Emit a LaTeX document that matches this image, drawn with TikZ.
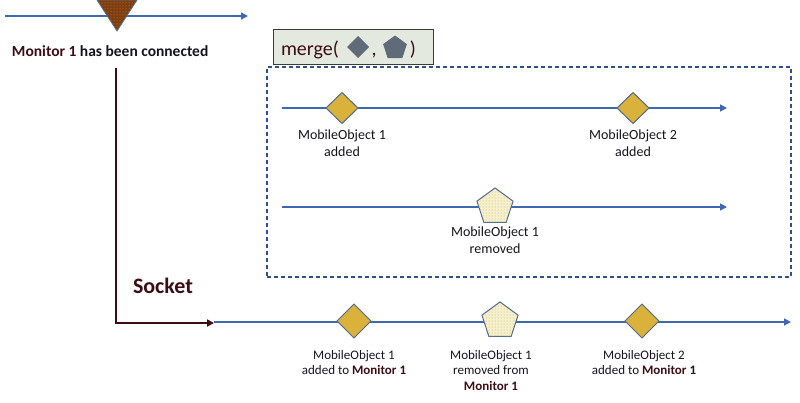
\documentclass[tikz,border=0pt]{standalone}
\usepackage{fontspec}
\setmainfont{Carlito}
\usetikzlibrary{shapes.geometric,arrows.meta,patterns}
\definecolor{darkred}{HTML}{3C0D14}
\definecolor{lblgray}{HTML}{14141E}
\definecolor{lineblue}{HTML}{3F68AE}
\definecolor{edgeblue}{HTML}{4F6A8F}
\definecolor{gold}{HTML}{D9B13B}
\definecolor{paleyellow}{HTML}{F5F0CF}
\definecolor{dotyellow}{HTML}{D6B035}
\definecolor{boxfill}{HTML}{E4E9DF}
\definecolor{boxborder}{HTML}{3A3A3A}
\definecolor{symgray}{HTML}{606A78}
\definecolor{dashblue}{HTML}{2F4F8F}
\definecolor{tribrown}{HTML}{7A3E14}
\begin{document}
\begin{tikzpicture}[x=1pt,y=-1pt,
  every node/.style={inner sep=0pt, outer sep=0pt},
  lbl/.style={align=center, text=lblgray, font=\fontsize{14}{17}\selectfont, anchor=north},
  lblsmall/.style={align=center, text=lblgray, font=\fontsize{13}{15.5}\selectfont, anchor=north},
  blueline/.style={draw=lineblue, line width=1.4pt, -{Triangle[length=7pt,width=7pt]}},
  redline/.style={draw=darkred, line width=2pt, -{Triangle[length=7pt,width=7pt]}},
  mdiamond/.style={diamond, draw=edgeblue, line width=1pt, fill=gold, minimum width=32pt, minimum height=31pt},
  bdiamond/.style={diamond, draw=edgeblue, line width=1pt, fill=gold, minimum width=34pt, minimum height=34pt},
  mpent/.style={regular polygon, regular polygon sides=5, draw=edgeblue, line width=1pt, fill=paleyellow, minimum size=38pt, postaction={pattern=dots, pattern color=dotyellow}},
]
\useasboundingbox (0,0) rectangle (800,402);

% top stream
\coordinate (topS) at (5,16);
\coordinate (topE) at (248,16);
\draw[blueline] (topS) -- (topE);
\filldraw[fill=tribrown, draw=edgeblue, line width=0.8pt, postaction={pattern=dots, pattern color=orange}] (97,0) -- (137,0) -- (117,31) -- cycle;
\node[anchor=base west, font=\bfseries\fontsize{15.5}{18}\selectfont, text=lblgray] (conn) at (12,56) {\textcolor{darkred}{Monitor 1} has been connected};

% socket
\coordinate (redS) at (116,68);
\coordinate (redC) at (116,323);
\coordinate (redE) at (214,323);
\draw[redline] (redS) -- (redC) -- (redE);
\node[anchor=base west, font=\bfseries\fontsize{22}{26}\selectfont, text=darkred] (socket) at (133,293) {Socket};

% merge box
\node[draw=boxborder, line width=1pt, fill=boxfill, minimum width=160pt, minimum height=35pt] (mergebox) at (353,47) {};
\node[anchor=base west, font=\fontsize{20}{24}\selectfont, text=darkred] (mtext) at (281,55) {merge(};
\node[diamond, fill=symgray, minimum width=22pt, minimum height=22pt] (msym1) at (358,47) {};
\node[anchor=base, font=\fontsize{20}{24}\selectfont, text=darkred] (mcomma) at (374,55) {,};
\node[regular polygon, regular polygon sides=5, fill=symgray, minimum size=25pt] (msym2) at (395,48) {};
\node[anchor=base, font=\fontsize{20}{24}\selectfont, text=darkred] (mclose) at (413,55) {)};

% dashed frame
\node[draw=dashblue, line width=1.2pt, dash pattern=on 4pt off 3pt, minimum width=524pt, minimum height=210pt] (frame) at (529,172) {};

% stream 1
\coordinate (s1S) at (282,108);
\coordinate (s1E) at (727,108);
\draw[blueline] (s1S) -- (s1E);
\node[mdiamond] (d1) at (342,108) {};
\node[mdiamond] (d2) at (633,108) {};
\node[lbl] (l1) at (342,130) {MobileObject 1\\added};
\node[lbl] (l2) at (633,130) {MobileObject 2\\added};

% stream 2
\coordinate (s2S) at (282,207);
\coordinate (s2E) at (727,207);
\draw[blueline] (s2S) -- (s2E);
\node[mpent] (p1) at (495,207) {};
\node[lbl] (l3) at (495,227) {MobileObject 1\\removed};

% result stream
\coordinate (rS) at (214,322);
\coordinate (rE) at (791,322);
\draw[blueline] (rS) -- (rE);
\node[bdiamond] (rd1) at (354,321) {};
\node[mpent] (rp1) at (500,321) {};
\node[bdiamond] (rd2) at (642,321) {};
\node[lblsmall] (rl1) at (354,350) {MobileObject 1\\added to \textbf{\textcolor{darkred}{Monitor 1}}};
\node[lblsmall] (rl2) at (491,350) {MobileObject 1\\removed from\\\textbf{\textcolor{darkred}{Monitor 1}}};
\node[lblsmall] (rl3) at (644,350) {MobileObject 2\\added to \textbf{\textcolor{darkred}{Monitor 1}}};
\end{tikzpicture}
\end{document}
